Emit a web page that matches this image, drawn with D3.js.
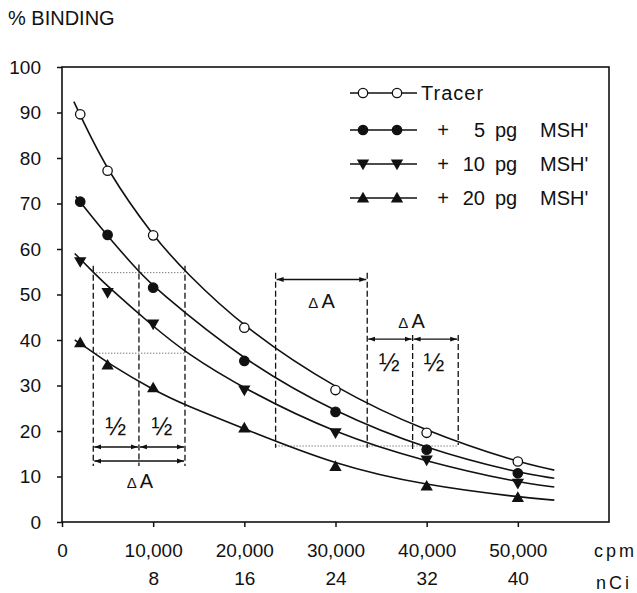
<!DOCTYPE html>
<html>
<head>
<meta charset="utf-8">
<script src="https://cdn.jsdelivr.net/npm/d3@7"></script>
<style>
  body { margin: 0; background: #fff; }
  text { font-family: "Liberation Sans", Arial, sans-serif; fill: #111; }
</style>
</head>
<body>
<script>
// values (cpm, % binding)
var xTicks = [0, 10000, 20000, 30000, 40000, 50000];
var nciTicks = [8, 16, 24, 32, 40];
var yTicks = [0, 10, 20, 30, 40, 50, 60, 70, 80, 90, 100];

var tracerPts = [[2000, 89.6], [5000, 77.2], [10000, 63.0], [20000, 42.7], [30000, 29.0], [40000, 19.6], [50000, 13.3]];
var pg5Pts = [[2000, 70.4], [5000, 63.1], [10000, 51.5], [20000, 35.4], [30000, 24.2], [40000, 15.9], [50000, 10.7]];
var pg10Pts = [[2000, 57.2], [5000, 50.4], [10000, 43.5], [20000, 29.0], [30000, 19.6], [40000, 13.6], [50000, 8.5]];
var pg20Pts = [[2000, 39.4], [5000, 34.5], [10000, 29.5], [20000, 20.7], [30000, 12.2], [40000, 7.9], [50000, 5.4]];

// fitted curves as drawn
var tracerCurve = [[1300, 92.4], [2000, 89.4], [5000, 77.0], [10000, 62.8], [13490, 55.0], [20000, 42.6], [30000, 29.2], [40000, 19.8], [50000, 13.1], [54000, 11.4]];
var pg5Curve = [[1500, 71.6], [2000, 70.3], [5000, 62.8], [8440, 55.0], [10000, 51.7], [20000, 35.3], [30000, 24.0], [40000, 16.0], [50000, 10.8], [54000, 9.6]];
var pg10Curve = [[1400, 59.0], [2000, 57.8], [3430, 54.9], [5000, 51.8], [10000, 43.0], [13490, 37.3], [20000, 29.2], [30000, 19.4], [40000, 13.2], [50000, 8.7], [54000, 7.7]];
var pg20Curve = [[1400, 40.0], [2000, 39.2], [3430, 37.3], [5000, 35.0], [10000, 29.0], [13490, 25.7], [20000, 20.5], [30000, 12.5], [40000, 8.0], [50000, 5.5], [54000, 4.8]];

// construction lines: [x, yTop, yBottom] / [x1, x2, y]
var dashLines = [[3430, 56.3, 12.3], [8440, 56.6, 12.3], [13490, 56.3, 12.3],
                 [23430, 54.8, 16.3], [33480, 54.8, 16.3], [38460, 41.1, 15.8], [43460, 41.1, 16.9]];
var dotLines = [[3430, 13490, 54.8], [3430, 13490, 37.1], [23430, 43400, 16.7]];
var arrows = [[3430, 8440, 16.5], [8440, 13490, 16.5], [3430, 13490, 13.4],
              [23430, 33480, 53.3], [33480, 38460, 40.2], [38460, 43460, 40.2]];
var halfLabels = [[5900, 20.9], [10960, 20.9], [35890, 34.9], [40790, 34.9]];
var deltaLabels = [[8550, 9.0], [28470, 48.6], [38340, 44.2]];

var series = [
  { pts: tracerPts, curve: tracerCurve, mark: "open", label: "Tracer" },
  { pts: pg5Pts, curve: pg5Curve, mark: "dot", amount: "5" },
  { pts: pg10Pts, curve: pg10Curve, mark: "down", amount: "10" },
  { pts: pg20Pts, curve: pg20Curve, mark: "up", amount: "20" }
];

var svg = d3.select("body").append("svg")
    .attr("width", 637)
    .attr("height", 593);

var x = d3.scaleLinear().domain([0, 60000]).range([62, 609]);
var y = d3.scaleLinear().domain([0, 100]).range([522, 67]);

var defs = svg.append("defs");
defs.append("marker").attr("id", "ah")
    .attr("viewBox", "0 0 10 10").attr("refX", 10).attr("refY", 5)
    .attr("markerWidth", 7).attr("markerHeight", 7).attr("orient", "auto-start-reverse")
    .attr("markerUnits", "userSpaceOnUse")
  .append("path").attr("d", "M0,1.5L10,5L0,8.5Z").attr("fill", "#111");

// axes
var yAxis = svg.append("g").attr("transform", "translate(62,0)")
    .call(d3.axisLeft(y).tickValues(yTicks).tickSize(5).tickPadding(16));
var xAxis = svg.append("g").attr("transform", "translate(0,522)")
    .call(d3.axisBottom(x).tickValues(xTicks).tickSize(5).tickPadding(17)
      .tickFormat(d3.format(",")));
var nAxis = svg.append("g").attr("transform", "translate(0,555)")
    .call(d3.axisBottom(x).tickValues(nciTicks.map(function (d) { return d * 1250; }))
      .tickSize(0).tickPadding(17).tickFormat(function (d) { return d / 1250; }));
svg.selectAll(".domain").remove();
nAxis.selectAll("line").remove();
svg.selectAll(".tick line").attr("stroke", "#111").attr("stroke-width", 1.5);
svg.selectAll(".tick text").style("font-size", "19px").attr("fill", "#111");

svg.append("rect")
    .attr("x", x(0)).attr("y", y(100))
    .attr("width", x(60000) - x(0)).attr("height", y(0) - y(100))
    .attr("fill", "none").attr("stroke", "#111").attr("stroke-width", 1.6);

svg.append("text").attr("x", 8).attr("y", 25)
    .style("font-size", "20px").text("% BINDING");
svg.append("text").attr("x", 594).attr("y", 557)
    .style("font-size", "18px").style("letter-spacing", "3px").text("cpm");
svg.append("text").attr("x", 596).attr("y", 589)
    .style("font-size", "18px").style("letter-spacing", "3px").text("nCi");

// construction lines
svg.selectAll(".dash").data(dashLines).enter().append("line")
    .attr("x1", function (d) { return x(d[0]); }).attr("x2", function (d) { return x(d[0]); })
    .attr("y1", function (d) { return y(d[1]); }).attr("y2", function (d) { return y(d[2]); })
    .attr("stroke", "#111").attr("stroke-width", 1.3).attr("stroke-dasharray", "6,3");

svg.selectAll(".dot").data(dotLines).enter().append("line")
    .attr("x1", function (d) { return x(d[0]); }).attr("x2", function (d) { return x(d[1]); })
    .attr("y1", function (d) { return y(d[2]); }).attr("y2", function (d) { return y(d[2]); })
    .attr("stroke", "#444").attr("stroke-width", 1).attr("stroke-dasharray", "1,2");

svg.selectAll(".arrow").data(arrows).enter().append("line")
    .attr("x1", function (d) { return x(d[0]) + 1; }).attr("x2", function (d) { return x(d[1]) - 1; })
    .attr("y1", function (d) { return y(d[2]); }).attr("y2", function (d) { return y(d[2]); })
    .attr("stroke", "#111").attr("stroke-width", 1.4)
    .attr("marker-start", "url(#ah)").attr("marker-end", "url(#ah)");

svg.selectAll(".half").data(halfLabels).enter().append("text")
    .attr("x", function (d) { return x(d[0]); }).attr("y", function (d) { return y(d[1]) + 8; })
    .attr("text-anchor", "middle").style("font-size", "25px").text("½");

var dl = svg.selectAll(".delta").data(deltaLabels).enter().append("text")
    .attr("x", function (d) { return x(d[0]); }).attr("y", function (d) { return y(d[1]) + 7; })
    .attr("text-anchor", "middle");
dl.append("tspan").style("font-size", "15px").text("Δ");
dl.append("tspan").attr("dx", 3).style("font-size", "20px").text("A");

// curves and markers
var line = d3.line()
    .x(function (d) { return x(d[0]); })
    .y(function (d) { return y(d[1]); })
    .curve(d3.curveBasis);

function drawMark(g, kind, px, py) {
  if (kind === "open" || kind === "dot") {
    g.append("circle").attr("cx", px).attr("cy", py).attr("r", 4.7)
      .attr("fill", kind === "open" ? "#fff" : "#111")
      .attr("stroke", "#111").attr("stroke-width", 1.3);
  } else {
    g.append("path")
      .attr("d", d3.symbol().type(d3.symbolTriangle).size(66)())
      .attr("transform", "translate(" + px + "," + (kind === "down" ? py - 1 : py + 1) + ")" +
        (kind === "down" ? " rotate(180)" : ""))
      .attr("fill", "#111");
  }
}

series.forEach(function (s) {
  svg.append("path").datum(s.curve).attr("d", line)
    .attr("fill", "none").attr("stroke", "#111").attr("stroke-width", 1.6);
  var g = svg.append("g");
  s.pts.forEach(function (p) { drawMark(g, s.mark, x(p[0]), y(p[1])); });
});

// legend
var legY = [93, 130, 164, 198];
series.forEach(function (s, i) {
  var g = svg.append("g");
  g.append("line").attr("x1", 350).attr("x2", 417).attr("y1", legY[i]).attr("y2", legY[i])
    .attr("stroke", "#111").attr("stroke-width", 1.5);
  drawMark(g, s.mark, 363, legY[i]);
  drawMark(g, s.mark, 397, legY[i]);
  if (s.label) {
    g.append("text").attr("x", 421).attr("y", legY[i] + 7).style("font-size", "20px")
      .style("letter-spacing", "1px").text(s.label);
  } else {
    g.append("text").attr("x", 443).attr("y", legY[i] + 7).attr("text-anchor", "middle")
      .style("font-size", "20px").text("+");
    g.append("text").attr("x", 485).attr("y", legY[i] + 7).attr("text-anchor", "end")
      .style("font-size", "20px").text(s.amount);
    g.append("text").attr("x", 495).attr("y", legY[i] + 7).style("font-size", "20px").text("pg");
    g.append("text").attr("x", 540).attr("y", legY[i] + 7).style("font-size", "20px").text("MSH'");
  }
});
</script>
</body>
</html>
